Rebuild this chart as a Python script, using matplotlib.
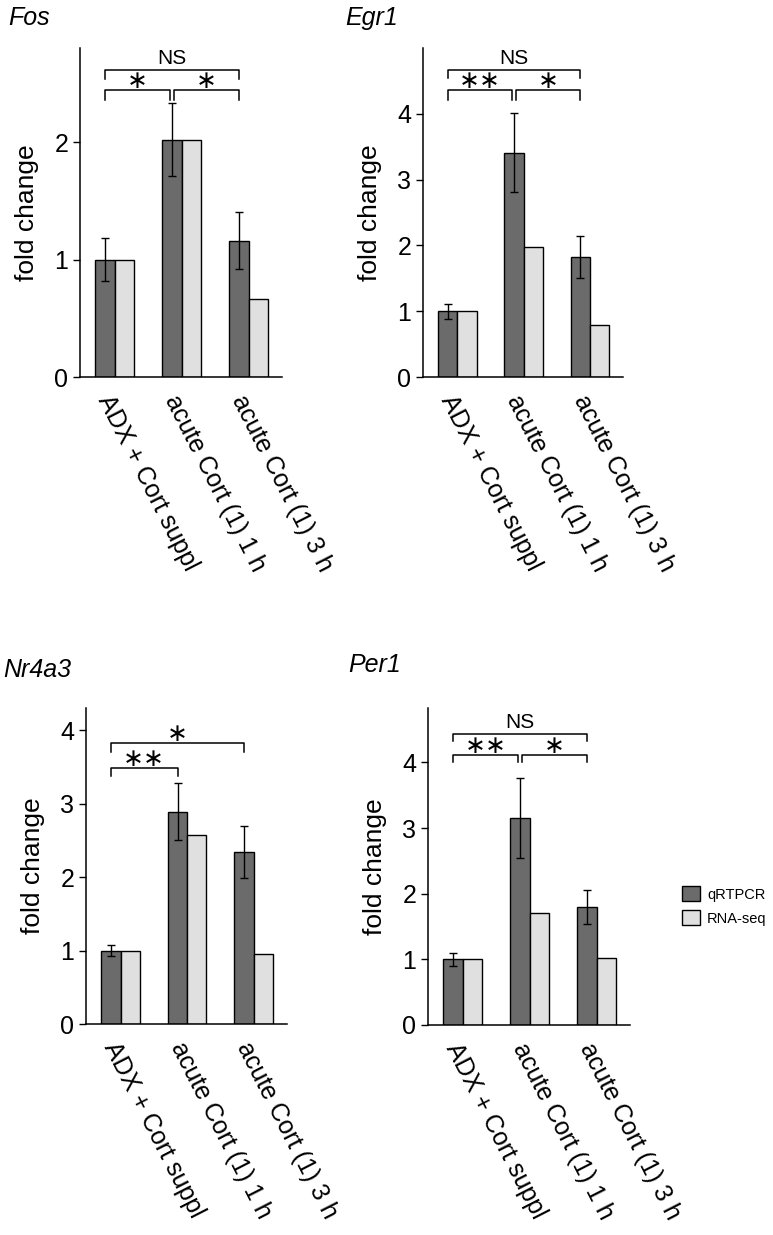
import matplotlib.pyplot as plt
from matplotlib.patches import Patch
import numpy as np

plt.rcParams['font.family'] = ['Liberation Sans', 'DejaVu Sans']

groups = ['ADX + Cort suppl', 'acute Cort (1) 1 h', 'acute Cort (1) 3 h']
genes = ['Fos', 'Egr1', 'Nr4a3', 'Per1']

qpcr = {
    'Fos': [1.0, 2.02, 1.16],
    'Egr1': [1.0, 3.41, 1.83],
    'Nr4a3': [1.0, 2.89, 2.34],
    'Per1': [1.0, 3.15, 1.80],
}
qpcr_err = {
    'Fos': [0.18, 0.31, 0.245],
    'Egr1': [0.115, 0.60, 0.32],
    'Nr4a3': [0.07, 0.39, 0.35],
    'Per1': [0.10, 0.61, 0.26],
}
rnaseq = {
    'Fos': [1.0, 2.02, 0.66],
    'Egr1': [1.0, 1.98, 0.79],
    'Nr4a3': [1.0, 2.57, 0.95],
    'Per1': [1.0, 1.71, 1.02],
}
ymax = {'Fos': 2.8, 'Egr1': 5.0, 'Nr4a3': 4.3, 'Per1': 4.83}
yticks = {'Fos': [0, 1, 2], 'Egr1': [0, 1, 2, 3, 4],
          'Nr4a3': [0, 1, 2, 3, 4], 'Per1': [0, 1, 2, 3, 4]}

# significance brackets: (from group, to group, height, drop, label)
brackets = {
    'Fos': [(0, 2, 2.61, 0.07, 'NS'), (0, 1, 2.44, 0.08, '*'), (1, 2, 2.44, 0.08, '*')],
    'Egr1': [(0, 2, 4.67, 0.12, 'NS'), (0, 1, 4.36, 0.15, '**'), (1, 2, 4.36, 0.15, '*')],
    'Nr4a3': [(0, 2, 3.82, 0.12, '*'), (0, 1, 3.48, 0.11, '**')],
    'Per1': [(0, 2, 4.44, 0.12, 'NS'), (0, 1, 4.12, 0.12, '**'), (1, 2, 4.12, 0.12, '*')],
}

# axes rectangles in pixels: left, top, right, bottom
W, H = 773, 1235
boxes = {
    'Fos': (80, 48, 282, 377),
    'Egr1': (423, 48, 623, 377),
    'Nr4a3': (86, 708, 287, 1024),
    'Per1': (428, 708, 630, 1025),
}
titles_xy = {'Fos': (8, 25), 'Egr1': (345, 25), 'Nr4a3': (3, 677), 'Per1': (348, 672)}

dark = '#6b6b6b'
light = '#e0e0e0'
bw = 0.29

fig = plt.figure(figsize=(W / 100, H / 100), dpi=100)

for g in genes:
    l, t, r, b = boxes[g]
    ax = fig.add_axes([l / W, 1 - b / H, (r - l) / W, (b - t) / H])
    x = np.arange(len(groups))
    ax.bar(x - bw / 2, qpcr[g], bw, color=dark, edgecolor='black', linewidth=1.0, zorder=2)
    ax.bar(x + bw / 2, rnaseq[g], bw, color=light, edgecolor='black', linewidth=1.0, zorder=2)
    ax.errorbar(x - bw / 2, qpcr[g], yerr=qpcr_err[g], fmt='none', ecolor='black',
                elinewidth=1.0, capsize=3, capthick=1.0, zorder=3)

    for i, j, y, d, lab in brackets[g]:
        x1 = i - bw / 2
        x2 = j - bw / 2
        gap = 0.03
        if j - i == 1 and i == 1:
            x1 += gap
        if j - i == 1 and j == 1 and any(bb[0] == 1 for bb in brackets[g]):
            x2 -= gap
        ax.plot([x1, x1, x2, x2], [y - d, y, y, y - d], color='black', lw=1.1,
                clip_on=False, zorder=4)
        xc = (x1 + x2) / 2
        if lab == 'NS':
            ax.annotate(lab, xy=(xc, y), xytext=(0, 1.5), textcoords='offset points',
                        ha='center', va='bottom', fontsize=15)
        else:
            ax.annotate(lab.replace('*', '\u2217'), xy=(xc, y), xytext=(0, 6.5),
                        textcoords='offset points', ha='center', va='center',
                        fontsize=18, family='DejaVu Sans')

    ax.set_xlim(-0.52, 2.5)
    ax.set_ylim(0, ymax[g])
    ax.set_yticks(yticks[g])
    ax.set_xticks(x)
    ax.set_xticklabels(groups, rotation=-63, ha='left', va='top',
                       rotation_mode='anchor', fontsize=18)
    ax.tick_params(axis='x', length=0, pad=10)
    ax.tick_params(axis='y', labelsize=18, length=5, width=1.0, direction='out')
    for s in ['top', 'right']:
        ax.spines[s].set_visible(False)
    for s in ['left', 'bottom']:
        ax.spines[s].set_linewidth(1.1)
    ax.set_ylabel('fold change', fontsize=19, labelpad=11)

    tx, ty = titles_xy[g]
    fig.text(tx / W, 1 - ty / H, g, fontsize=18, style='italic', ha='left', va='baseline')

handles = [Patch(facecolor=dark, edgecolor='black', label='qRTPCR'),
           Patch(facecolor=light, edgecolor='black', label='RNA-seq')]
fig.legend(handles=handles, loc='upper left', bbox_to_anchor=(672 / W, 1 - 876 / H),
           frameon=False, fontsize=10.5, handlelength=1.2, handleheight=1.2,
           handletextpad=0.5, labelspacing=0.6, borderpad=0.2)

fig.savefig('out.png', dpi=100)
